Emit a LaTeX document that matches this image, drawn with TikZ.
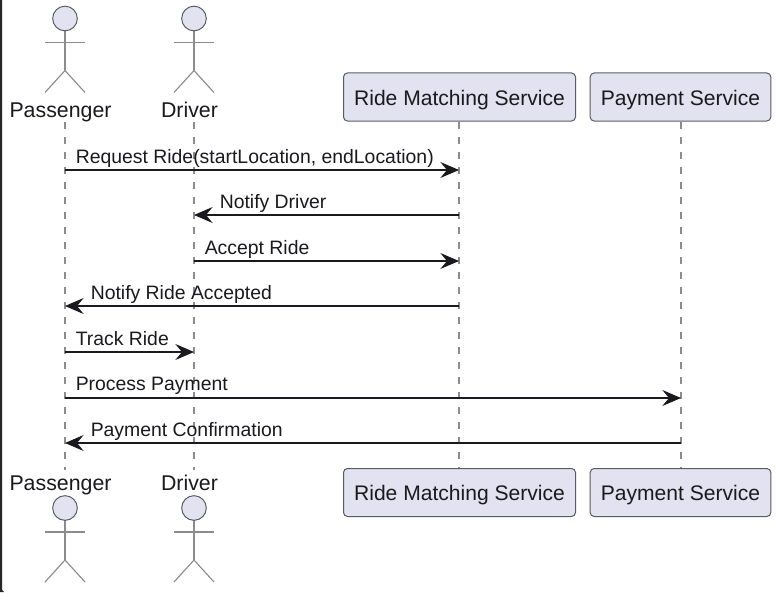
\documentclass[tikz,border=0pt]{standalone}
\usepackage{fontspec}
\setmainfont{Liberation Sans}
\usetikzlibrary{arrows.meta}
\definecolor{partfill}{HTML}{E2E2F0}
\definecolor{partline}{HTML}{5A5A62}
\definecolor{stick}{HTML}{8C8C8C}
\definecolor{ink}{HTML}{1A1A1E}
\tikzset{
  x=0.75pt,y=-0.75pt,
  partbox/.style={draw=partline,fill=partfill,rounded corners=3pt,line width=0.75pt,minimum height=36pt,inner sep=0pt,text=ink,font=\fontsize{15.8}{18}\selectfont},
  actorlabel/.style={inner sep=0pt,text=ink,font=\fontsize{16}{18}\selectfont},
  msglabel/.style={inner sep=0pt,anchor=base west,text=ink,font=\fontsize{14.55}{16}\selectfont},
  lifeline/.style={draw=stick,line width=0.85pt,dash pattern=on 5.5pt off 5.75pt},
  msg/.style={draw=ink,line width=1pt,-{Stealth[length=14pt,width=12pt,inset=5pt]}},
  stickline/.style={draw=stick,line width=0.85pt},
  head/.style={draw=partline,fill=partfill,line width=0.75pt},
}
\newcommand{\stickman}[3]{% x, top of head centre, name
  \draw[stickline] (#1,#2+12) -- (#1,#2+52);
  \draw[stickline] (#1-20,#2+24) -- (#1+20,#2+24);
  \draw[stickline] (#1-20,#2+74) -- (#1,#2+52) -- (#1+20,#2+74);
  \node[head,circle,minimum size=18.5pt,inner sep=0pt] (#3) at (#1,#2) {};
}
\newcommand{\boxtext}[1]{\raisebox{-6.2pt}[0pt][0pt]{#1}}
\begin{document}
\begin{tikzpicture}
\useasboundingbox (0,0) rectangle (777,592);
\fill[white] (0,0) rectangle (777,592);
\fill[black!85] (0,0) -- (2,0) -- (2,589) .. controls (2,590) and (2.5,590.5) .. (4,592) -- (0,592) -- cycle;
% lifeline ends
\coordinate (pTop) at (65,122); \coordinate (pBot) at (65,470);
\coordinate (dTop) at (194,122); \coordinate (dBot) at (194,470);
\coordinate (rTop) at (459,122); \coordinate (rBot) at (459,469);
\coordinate (sTop) at (681,122); \coordinate (sBot) at (681,469);
\draw[lifeline] (pTop) -- (pBot);
\draw[lifeline] (dTop) -- (dBot);
\draw[lifeline] (rTop) -- (rBot);
\draw[lifeline] (sTop) -- (sBot);
% participants
\stickman{65}{18.5}{passHeadT}
\stickman{194}{18.5}{drvHeadT}
\stickman{65}{508}{passHeadB}
\stickman{194}{508}{drvHeadB}
\node[actorlabel] (passT) at (60.5,113) {\strut Passenger};
\node[actorlabel] (drvT) at (189.5,113) {\strut Driver};
\node[actorlabel] (passB) at (60.5,486) {\strut Passenger};
\node[actorlabel] (drvB) at (189.5,486) {\strut Driver};
\node[partbox,minimum width=174pt] (rT) at (459.5,97) {\boxtext{Ride Matching Service}};
\node[partbox,minimum width=135.5pt] (sT) at (680.5,97) {\boxtext{Payment Service}};
\node[partbox,minimum width=174pt] (rB) at (459.5,492.5) {\boxtext{Ride Matching Service}};
\node[partbox,minimum width=135.5pt] (sB) at (680.5,492.5) {\boxtext{Payment Service}};
% messages
\foreach \n/\xa/\xb/\y in {1/65/459/170,2/459/194/215,3/194/459/261,4/459/65/306,5/65/194/352,6/65/681/398,7/681/65/443}{
  \coordinate (m\n a) at (\xa,\y);
  \coordinate (m\n b) at (\xb,\y);
  \draw[msg] (m\n a) -- (m\n b);
}
\node[msglabel] (l1) at (75.5,163) {Request Ride(startLocation, endLocation)};
\node[msglabel] (l2) at (219.5,208.5) {Notify Driver};
\node[msglabel] (l3) at (204.5,254) {Accept Ride};
\node[msglabel] (l4) at (90.5,299) {Notify Ride Accepted};
\node[msglabel] (l5) at (75.5,345) {Track Ride};
\node[msglabel] (l6) at (75.5,390) {Process Payment};
\node[msglabel] (l7) at (90.5,436) {Payment Confirmation};
\end{tikzpicture}
\end{document}
